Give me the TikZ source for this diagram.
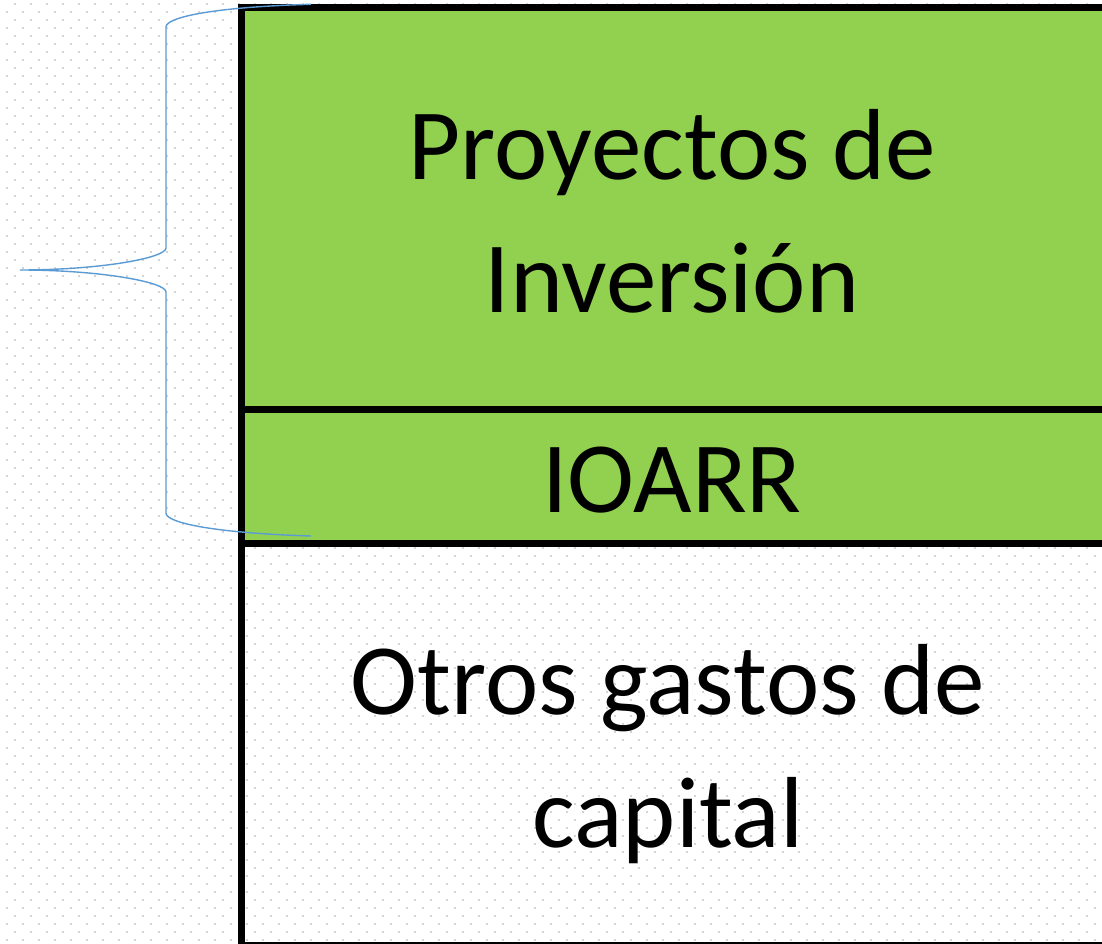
\documentclass[tikz,border=0pt]{standalone}
\usepackage{fontspec}
\setmainfont{Carlito}
\definecolor{boxgreen}{HTML}{92D050}
\definecolor{bracecol}{HTML}{5B9BD5}
\definecolor{dotcol}{HTML}{D4D4D4}
\begin{document}
\begin{tikzpicture}[x=1pt,y=-1pt,
  greenbox/.style={fill=boxgreen,draw=none},
  sep/.style={line width=7pt,black},
  bigtext/.style={font=\fontsize{101}{133}\selectfont,inner sep=0pt,align=center},
  bracepath/.style={draw=bracecol,line width=1.4pt}]
\useasboundingbox (0,0) rectangle (1102,944);
\fill[white] (0,0) rectangle (1102,944);
% dotted background
\foreach \r in {0,...,117}{
  \pgfmathsetmacro{\yy}{4.3+8*\r}
  \pgfmathsetmacro{\xo}{mod(\r,2)==0 ? 15 : 7}
  \foreach \c in {0,...,69}{
    \fill[dotcol] ({\xo+16*\c-1},{\yy-1}) rectangle ++(2,2);
  }
}
% green boxes
\fill[greenbox] (241.5,7.5) rectangle (1110,409.5);
\fill[greenbox] (241.5,409.5) rectangle (1110,543.5);
% lines
\draw[sep] (241.5,4) -- (241.5,950);
\draw[sep] (238,7.5) -- (1110,7.5);
\draw[sep] (238,409.5) -- (1110,409.5);
\draw[sep] (238,543.5) -- (1110,543.5);
\draw[sep] (238,945.5) -- (1110,945.5);
% texts (base anchor = baseline of the last line)
\node[bigtext,anchor=base] (proy) at (672,312) {Proyectos de\\Inversión};
\node[bigtext,anchor=base] (ioarr) at (672,512) {IOARR};
\node[bigtext,anchor=base] (otros) at (668,847) {Otros gastos de\\capital};
% brace
\coordinate (btop) at (311,4.3);
\coordinate (bbot) at (311,536);
\coordinate (btip) at (20,270);
\draw[bracepath] (btop) .. controls (215,7) and (166,17) .. (166,27)
  -- (166,248) .. controls (166,258) and (100,270) .. (btip)
  .. controls (100,270) and (166,282) .. (166,292)
  -- (166,513) .. controls (166,523) and (215,533) .. (bbot);
\end{tikzpicture}
\end{document}
